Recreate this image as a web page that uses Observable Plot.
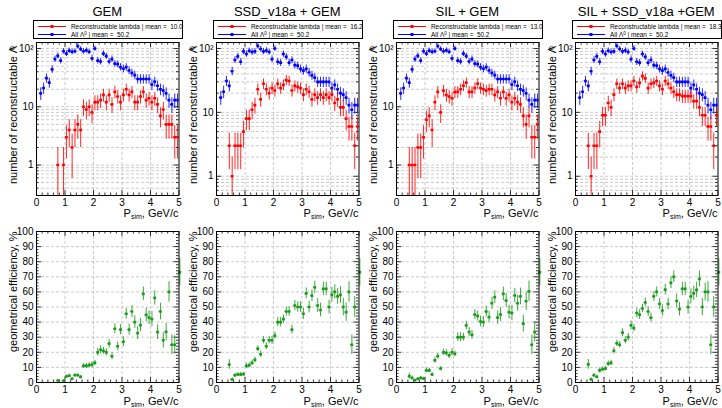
<!DOCTYPE html>
<html><head><meta charset="utf-8">
<script src="https://cdn.jsdelivr.net/npm/d3@7"></script>
<script src="https://cdn.jsdelivr.net/npm/@observablehq/plot@0.6"></script>
<style>
body{margin:0;background:#fff;font-family:"Liberation Sans",Arial,sans-serif;color:#000;}
#root{position:relative;width:722px;height:408px;overflow:hidden;background:#fff;}
.abs{position:absolute;}
.title{font-size:13px;text-align:center;white-space:nowrap;line-height:16px;}
.legend{position:absolute;border:1px solid #000;background:#fff;box-sizing:border-box;font-size:6.4px;}
.legend .row{position:absolute;left:0;height:9px;width:100%;}
.legend svg{position:absolute;left:3px;top:0;}
.legend span{position:absolute;left:37px;top:0;line-height:9px;white-space:nowrap;}
.ylab{position:absolute;writing-mode:vertical-rl;transform:rotate(180deg);text-align:right;font-size:11px;line-height:14px;white-space:nowrap;width:14px;}
.xlab{position:absolute;font-size:11px;line-height:12px;text-align:right;white-space:nowrap;}
.sub{font-size:7px;position:relative;top:2px;}
.sup{font-size:7px;position:relative;top:-4px;}
</style>
</head><body><div id="root"></div>
<script>
// ---------------- data ----------------
const BIN_CENTERS = [0.15,0.25,0.35,0.45,0.55,0.65,0.75,0.85,0.95,1.05,1.15,1.25,1.35,1.45,1.55,1.65,1.75,1.85,1.95,2.05,2.15,2.25,2.35,2.45,2.55,2.65,2.75,2.85,2.95,3.05,3.15,3.25,3.35,3.45,3.55,3.65,3.75,3.85,3.95,4.05,4.15,4.25,4.35,4.45,4.55,4.65,4.75,4.85,4.95];
const BIN_HALF = 0.05;

const PANEL_TITLES = ["GEM", "SSD_v18a + GEM", "SIL + GEM", "SIL + SSD_v18a +GEM"];
const RECO_MEANS = ["10.0", "16.2", "13.0", "18.3"];
const ALL_MEAN = "50.2";

// All Lambda0 (same in every panel)
const ALL_LAMBDA = [17,21,31,26,44,66,75,62,90,82,92,88,90,110,98,90,93,88,68,100,62,60,82,74,60,66,55,54,48,45,48,42,38,35,30,30,30,30,30,24,27,23,20,19,17,13,11,13,13];

// Reconstructable lambda per setup
const RECO_GEM = [0,0,0,0,0,0,1,0,1,3,4,2,4,5,4,10,9,10,8,12,12,13,16,12,16,11,18,15,12,16,20,16,18,12,12,15,18,13,14,12,14,11,7,9,5,5,5,3,3];
const RECO_SSD = [0,0,0,3,1,3,3,3,5,8,8,11,13,23,16,28,23,20,24,22,28,24,27,32,31,22,26,25,24,19,23,21,16,19,17,19,17,19,17,19,14,16,12,12,8,6,6,3,6];
const RECO_SIL = [0,0,0,1,1,1,2,2,3,6,7,4,12,18,8,19,16,15,14,18,18,20,23,26,18,18,21,25,21,20,19,20,20,16,18,14,18,14,16,12,14,12,11,7,5,7,3,3,5];
const RECO_SIL_SSD = [0,0,0,3,1,3,3,5,9,9,14,12,19,28,24,28,24,26,26,31,25,29,37,34,24,28,29,31,26,23,31,28,24,21,19,19,18,18,18,18,15,15,12,9,9,6,6,3,9];

// geometrical efficiency, %
const EFF_GEM = [null,null,null,null,null,null,1.3,null,1.1,4,4.5,2.5,4.8,4.8,3.7,11,11,11.5,11.8,13,20,21.7,21,20,25.7,17.4,35.6,24,35,27,45.5,35,47,40,32.7,38,58.7,44.8,43,42,56,33.4,47,28,33.5,60,25,25,null];
const EFF_SSD = [null,null,null,11.9,2,4.8,5.3,5.3,5.5,11,11.4,13,15,22.4,18.7,28,24,28,28,31,40,40,42,47,47,35,51,50,50,45.5,59,50,57.5,63,51,48,62,62,50,58,60,57,58,50,46.6,60,25,50,null];
const EFF_SIL = [null,null,null,4.2,3,1.5,2.4,3,2.6,8,8,5.3,14.7,17.4,9.2,20,19.6,18,20,19,30,30,30,37.8,33.4,31.6,45,44,40.4,40,47,43.3,52.5,56.5,43,45,58.7,54.3,46.6,46,57.6,52.5,57,39,53.8,60.4,25,33.4,null];
const EFF_SIL_SSD = [null,null,null,12,2,4.8,3.7,8,8.8,9.2,12.5,13,21,26,25,33,28,30,37.8,36,46,45,49,53,47,43,57,60,52,47.7,61.5,52,66,70,54,48.6,62,62,50,57,59,61.3,68.6,50,60,60,25,50,null];

// overflow point drawn at the right edge of every efficiency panel
const EFF_OVERFLOW = {x: 5.03, v: 73, err: 9};

const RECO = [RECO_GEM, RECO_SSD, RECO_SIL, RECO_SIL_SSD];
const EFF = [EFF_GEM, EFF_SSD, EFF_SIL, EFF_SIL_SSD];
const Y_LOG_DOMAINS = [[0.3,127],[0.5,124],[0.3,127],[0.5,124]];

// axis ticks
const X_LABEL_TICKS = [0,1,2,3,4,5];
const X_GRID = [1,2,3,4];
const X_MINOR = [0.2,0.4,0.6,0.8,1.2,1.4,1.6,1.8,2.2,2.4,2.6,2.8,3.2,3.4,3.6,3.8,4.2,4.4,4.6,4.8];
const LOG_LABEL_TICKS = [1,10,100];
const LOG_MINOR = [0.3,0.4,0.5,0.6,0.7,0.8,0.9,2,3,4,5,6,7,8,9,20,30,40,50,60,70,80,90];
const EFF_LABEL_TICKS = [0,10,20,30,40,50,60,70,80,90,100];
const EFF_GRID = [10,20,30,40,50,60,70,80,90];
const EFF_MINOR = [2,4,6,8,12,14,16,18,22,24,26,28,32,34,36,38,42,44,46,48,52,54,56,58,62,64,66,68,72,74,76,78,82,84,86,88,92,94,96,98];

const OFFSETS = [0,180,360,539];
const RED = "#ff0000", BLUE = "#0000ff", GREEN = "#1a9a1a";

// ---------------- drawing ----------------
const W = 180, ML = 36, MR = 1.5;
const FW = W - ML - MR;
const TOP_H = 220, TOP_MT = 42, TOP_MB = 25, TOP_FH = TOP_H - TOP_MT - TOP_MB;
const BOT_H = 188, BOT_MT = 11, BOT_MB = 26, BOT_FH = BOT_H - BOT_MT - BOT_MB;
const gridStyle = {stroke:"#b4b4b4", strokeDasharray:"3,2", strokeWidth:0.7};
const tickStyle = {stroke:"#000", strokeWidth:0.8};

function inwardTicks(fh, xMinor, xMajor, yMinor, yMajor, minorLen, majorLen) {
  return [
    Plot.tickX(xMinor, {x: d=>d, insetTop: fh-minorLen, ...tickStyle}),
    Plot.tickX(xMinor, {x: d=>d, insetBottom: fh-minorLen, ...tickStyle}),
    Plot.tickX(xMajor, {x: d=>d, insetTop: fh-majorLen, ...tickStyle}),
    Plot.tickX(xMajor, {x: d=>d, insetBottom: fh-majorLen, ...tickStyle}),
    Plot.tickY(yMinor, {y: d=>d, insetRight: FW-minorLen, ...tickStyle}),
    Plot.tickY(yMinor, {y: d=>d, insetLeft: FW-minorLen, ...tickStyle}),
    Plot.tickY(yMajor, {y: d=>d, insetRight: FW-majorLen, ...tickStyle}),
    Plot.tickY(yMajor, {y: d=>d, insetLeft: FW-majorLen, ...tickStyle})
  ];
}

function pointMarks(data, color, clip) {
  return [
    Plot.ruleX(data, {x:"x", y1:"lo", y2:"hi", stroke: color, strokeWidth: 1, strokeOpacity: 0.85, clip}),
    Plot.ruleY(data, {y:"v", x1: d=>d.x-BIN_HALF, x2: d=>d.x+BIN_HALF, stroke: color, strokeWidth: 1, strokeOpacity: 0.85, clip}),
    Plot.dot(data, {x:"x", y:"v", symbol:"square", r:1.5, fill: color, stroke: "none", clip})
  ];
}

function countData(values) {
  return BIN_CENTERS.map((x,i)=>({x, v: values[i]}))
    .filter(d=>d.v>0)
    .map(d=>({...d, lo: Math.max(d.v - Math.sqrt(d.v), 1e-3), hi: d.v + Math.sqrt(d.v)}));
}

function topPlot(i) {
  const dom = Y_LOG_DOMAINS[i];
  const inDom = v => v >= dom[0] && v <= dom[1];
  return Plot.plot({
    width: W, height: TOP_H, marginLeft: ML, marginRight: MR, marginTop: TOP_MT, marginBottom: TOP_MB,
    x: {domain: [0,5]},
    y: {type: "log", domain: dom},
    style: {fontFamily: "Liberation Sans, Arial, sans-serif", fontSize: "10px", overflow: "visible", background: "transparent"},
    marks: [
      Plot.ruleY(LOG_MINOR.concat(LOG_LABEL_TICKS).filter(inDom), {y: d=>d, ...gridStyle}),
      Plot.ruleX(X_GRID, {x: d=>d, ...gridStyle}),
      ...inwardTicks(TOP_FH, X_MINOR, X_LABEL_TICKS, LOG_MINOR.filter(inDom), LOG_LABEL_TICKS, 2.5, 5),
      Plot.axisX(X_LABEL_TICKS, {tickSize: 0, tickPadding: 3, label: null, fontSize: 10}),
      Plot.axisY(LOG_LABEL_TICKS, {tickSize: 0, tickPadding: 3, label: null, fontSize: 10,
        tickFormat: d => d === 100 ? "10\u00B2" : String(d)}),
      ...pointMarks(countData(ALL_LAMBDA), BLUE, true),
      ...pointMarks(countData(RECO[i]), RED, true),
      Plot.frame({stroke: "#000", strokeWidth: 1})
    ]
  });
}

function bottomPlot(i) {
  const eff = EFF[i];
  const data = BIN_CENTERS.map((x,k)=>({x, v: eff[k], n: ALL_LAMBDA[k]}))
    .filter(d=>d.v != null)
    .map(d=>{ const e = Math.sqrt(d.v*(100-d.v)/d.n)/2; return {...d, lo: Math.max(d.v-e,0), hi: Math.min(d.v+e,100)}; });
  const over = [{x: EFF_OVERFLOW.x, v: EFF_OVERFLOW.v, lo: EFF_OVERFLOW.v-EFF_OVERFLOW.err, hi: EFF_OVERFLOW.v+EFF_OVERFLOW.err}];
  return Plot.plot({
    width: W, height: BOT_H, marginLeft: ML, marginRight: MR, marginTop: BOT_MT, marginBottom: BOT_MB,
    x: {domain: [0,5]},
    y: {domain: [0,100]},
    style: {fontFamily: "Liberation Sans, Arial, sans-serif", fontSize: "10px", overflow: "visible", background: "transparent"},
    marks: [
      Plot.ruleY(EFF_GRID, {y: d=>d, ...gridStyle}),
      Plot.ruleX(X_GRID, {x: d=>d, ...gridStyle}),
      ...inwardTicks(BOT_FH, X_MINOR, X_LABEL_TICKS, EFF_MINOR, EFF_LABEL_TICKS, 2.5, 5),
      Plot.axisX(X_LABEL_TICKS, {tickSize: 0, tickPadding: 3, label: null, fontSize: 10}),
      Plot.axisY(EFF_LABEL_TICKS, {tickSize: 0, tickPadding: 3, label: null, fontSize: 10}),
      ...pointMarks(data, GREEN, true),
      ...pointMarks(over, GREEN, false),
      Plot.frame({stroke: "#000", strokeWidth: 1})
    ]
  });
}

const root = document.getElementById("root");
function addDiv(cls, style, html) {
  const d = document.createElement("div");
  d.className = cls; d.setAttribute("style", style); d.innerHTML = html;
  root.appendChild(d); return d;
}
function legendRow(color, text, top) {
  return `<div class="row" style="top:${top}px"><svg width="30" height="9"><line x1="1" x2="29" y1="4.5" y2="4.5" stroke="${color}" stroke-width="1"/><rect x="13.5" y="3" width="3" height="3" fill="${color}"/></svg><span>${text}</span></div>`;
}

PANEL_TITLES.forEach((title, i) => {
  const ox = OFFSETS[i];
  const t = topPlot(i);
  t.style.position = "absolute"; t.style.left = ox + "px"; t.style.top = "0px";
  root.appendChild(t);
  const b = bottomPlot(i);
  b.style.position = "absolute"; b.style.left = ox + "px"; b.style.top = TOP_H + "px";
  root.appendChild(b);

  addDiv("abs title", `left:${ox+ML}px;top:4px;width:${FW}px;`, title);
  addDiv("legend", `left:${ox+33}px;top:20px;width:150px;height:19px;`,
    legendRow(RED, `Reconstructable lambda | mean = &nbsp;${RECO_MEANS[i]}`, 0.5) +
    legendRow(BLUE, `All &Lambda;<span class="sup" style="position:relative;left:0;font-size:4.5px;top:-2px">0</span> | mean = &nbsp;${ALL_MEAN}`, 9));
  addDiv("ylab", `left:${ox+6}px;top:${TOP_MT}px;height:${TOP_FH}px;`, `number of reconstructable &Lambda;<span class="sup" style="font-size:7px;">0</span>`);
  addDiv("ylab", `left:${ox+6}px;top:${TOP_H+BOT_MT}px;height:${BOT_FH}px;`, `geometrical efficiency, %`);
  addDiv("xlab", `left:${ox}px;top:207px;width:${W-MR}px;`, `P<span class="sub">sim</span>, GeV/c`);
  addDiv("xlab", `left:${ox}px;top:395px;width:${W-MR}px;`, `P<span class="sub">sim</span>, GeV/c`);
});
</script>
</body></html>
